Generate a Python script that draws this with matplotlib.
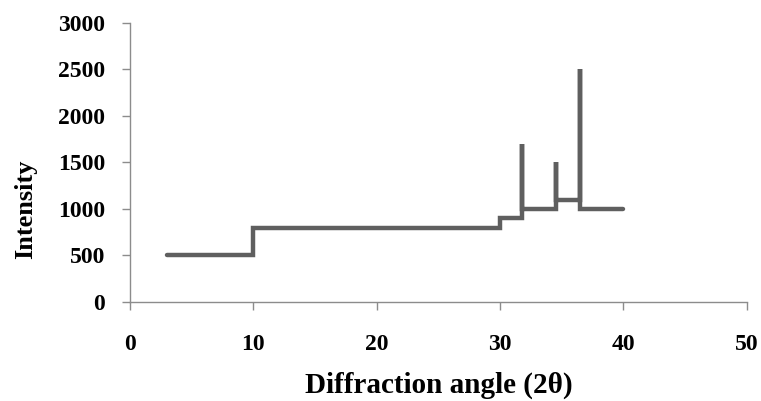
import numpy as np
import matplotlib
matplotlib.use("Agg")
import matplotlib.pyplot as plt

# XRD-like stepped trace
angle = [3, 10, 10, 30, 30, 31.8, 31.8, 31.8, 34.5, 34.5, 34.5, 36.5, 36.5, 36.5, 40]
intensity = [500, 500, 800, 800, 900, 900, 1700, 1000, 1000, 1500, 1100, 1100, 2500, 1000, 1000]

xticks = [0, 10, 20, 30, 40, 50]
yticks = [0, 500, 1000, 1500, 2000, 2500, 3000]

plt.rcParams['font.family'] = ['Liberation Serif', 'DejaVu Serif']
plt.rcParams['font.weight'] = 'bold'

fig = plt.figure(figsize=(7.61, 4.01), dpi=100)
ax = fig.add_axes([0.1708, 0.2469, 0.8104, 0.6958])
ax.plot(angle, intensity, color='#5f5f5f', lw=3.2, solid_capstyle='round', solid_joinstyle='miter')

ax.set_xlim(0, 50)
ax.set_ylim(0, 3000)
ax.set_xticks(xticks)
ax.set_yticks(yticks)
for s in ['top', 'right']:
    ax.spines[s].set_visible(False)
for s in ['left', 'bottom']:
    ax.spines[s].set_color('#8c8c8c')
    ax.spines[s].set_linewidth(1.0)
ax.tick_params(axis='both', colors='#8c8c8c', labelcolor='black', labelsize=17, length=6, width=1.0)
ax.tick_params(axis='x', pad=17)
ax.tick_params(axis='y', pad=12)
for lab in ax.get_xticklabels() + ax.get_yticklabels():
    lab.set_fontweight('bold')

ax.set_xlabel('Diffraction angle (2θ)', fontsize=21, fontweight='bold', labelpad=12)
ax.set_ylabel('Intensity', fontsize=19, fontweight='bold')
ax.yaxis.set_label_coords(-0.15, 0.333)

fig.savefig('out.png', dpi=100)
